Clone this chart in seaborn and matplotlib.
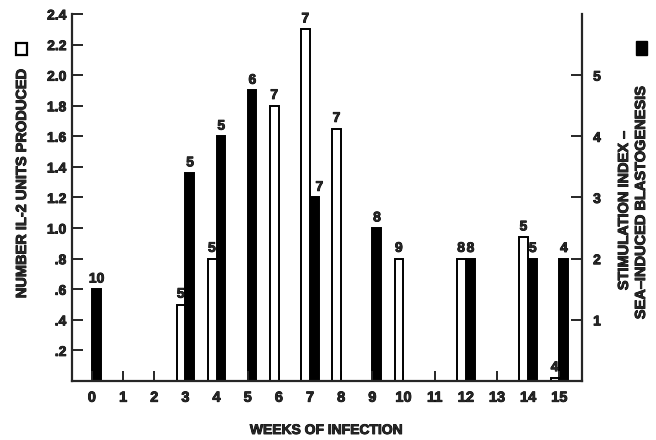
import matplotlib
matplotlib.use("Agg")
import matplotlib.pyplot as plt
import matplotlib.patches as mpatches
import matplotlib.patheffects as pe
from matplotlib import font_manager
import pandas as pd
import seaborn as sns

# data
weeks = list(range(16))
il2_weeks = [3, 4, 6, 7, 8, 10, 12, 14, 15]
il2_units = [0.5, 0.8, 1.8, 2.3, 1.65, 0.8, 0.8, 0.94, 0.02]
il2_n = [5, 5, 7, 7, 7, 9, 8, 5, 4]
si_weeks = [0, 3, 4, 5, 7, 9, 12, 14, 15]
si_index = [1.5, 3.4, 4.0, 4.75, 3.0, 2.5, 2.0, 2.0, 2.0]
si_n = [10, 5, 5, 6, 7, 8, 8, 5, 4]
left_ticks = [0.2, 0.4, 0.6, 0.8, 1.0, 1.2, 1.4, 1.6, 1.8, 2.0, 2.2, 2.4]
left_ticklabels = [".2", ".4", ".6", ".8", "1.0", "1.2", "1.4", "1.6", "1.8", "2.0", "2.2", "2.4"]
right_ticks = [1, 2, 3, 4, 5]

sns.set_style("ticks")

# pick a family that really has a bold face installed
family = "DejaVu Sans"
for cand in ["Liberation Sans", "Roboto", "Noto Sans", "Open Sans", "Lato"]:
    path = font_manager.findfont(font_manager.FontProperties(family=cand, weight="bold"),
                                 fallback_to_default=False)
    if "bold" in path.lower():
        family = cand
        break
plt.rcParams['font.family'] = [family, 'DejaVu Sans']
plt.rcParams['font.weight'] = 'bold'

heavy = [pe.withStroke(linewidth=0.6, foreground="black")]

df_il2 = pd.DataFrame({"week": il2_weeks, "value": il2_units, "series": "IL-2"})
df_si = pd.DataFrame({"week": si_weeks, "value": si_index, "series": "SI"})
palette = {"IL-2": "white", "SI": "black"}
hue_order = ["IL-2", "SI"]

fig = plt.figure(figsize=(6.56, 4.4), dpi=100)
ax = fig.add_axes([72 / 656, 59 / 440, 510 / 656, 367 / 440])
ax2 = ax.twinx()
ax.set_zorder(ax2.get_zorder() + 1)
ax.patch.set_visible(False)

sns.barplot(data=df_il2, x="week", y="value", hue="series", hue_order=hue_order,
            order=weeks, palette=palette, dodge=True, width=0.56, edgecolor="black",
            linewidth=1.4, legend=False, ax=ax)
sns.barplot(data=df_si, x="week", y="value", hue="series", hue_order=hue_order,
            order=weeks, palette=palette, dodge=True, width=0.56, edgecolor="black",
            linewidth=1.4, legend=False, ax=ax2)

# n labels above bars
for w, v, n in zip(il2_weeks, il2_units, il2_n):
    ax.text(weeks.index(w) - 0.15, v + 0.025, str(n), ha="center", va="bottom",
            fontsize=10, fontweight="bold", path_effects=heavy)
for w, v, n in zip(si_weeks, si_index, si_n):
    dx = 0.3 if w == 7 else 0.15
    ax2.text(weeks.index(w) + dx, v + 0.06, str(n), ha="center", va="bottom",
             fontsize=10, fontweight="bold", path_effects=heavy)

ax.set_xlim(-0.64, 15.73)
ax.set_ylim(0, 2.4)
ax2.set_ylim(0, 6)
ax.set_yticks(left_ticks)
ax.set_yticklabels(left_ticklabels)
ax2.set_yticks(right_ticks)
ax2.set_yticklabels([str(t) for t in right_ticks])
ax.set_xticks(weeks)
ax.set_xticklabels([str(w) for w in weeks])

for a in (ax, ax2):
    a.set_xlabel("")
    a.set_ylabel("")
    a.spines["top"].set_visible(False)
    for s in ("left", "right", "bottom"):
        a.spines[s].set_linewidth(1.6)
ax.spines["right"].set_visible(False)
ax2.spines["left"].set_visible(False)
ax2.spines["bottom"].set_visible(False)

ax.tick_params(axis="y", direction="in", length=8, width=1.4, labelsize=10, pad=4)
ax.tick_params(axis="x", direction="in", length=7, width=1.4, labelsize=10.5, pad=7)
ax2.tick_params(axis="y", direction="in", length=8, width=1.4, labelsize=10, pad=8)
for lab in ax.get_xticklabels() + ax.get_yticklabels() + ax2.get_yticklabels():
    lab.set_fontweight("bold")
    lab.set_path_effects(heavy)

fig.text(22 / 656, 1 - 183 / 440, "NUMBER IL-2 UNITS PRODUCED", rotation=90,
         ha="center", va="center", fontsize=10.5, fontweight="bold", path_effects=heavy)
fig.text(624 / 656, 1 - 210 / 440, "STIMULATION INDEX \u2013", rotation=90,
         ha="center", va="center", fontsize=10.5, fontweight="bold", path_effects=heavy)
fig.text(641 / 656, 1 - 202 / 440, "SEA\u2013INDUCED BLASTOGENESIS", rotation=90,
         ha="center", va="center", fontsize=10.5, fontweight="bold", path_effects=heavy)
fig.text(326 / 656, 1 - 430 / 440, "WEEKS OF INFECTION", ha="center", va="center",
         fontsize=10, fontweight="bold", path_effects=heavy)

# legend squares next to the axis titles
fig.patches.append(mpatches.Rectangle((16 / 656, 1 - 55 / 440), 11 / 656, 12 / 440,
                                      transform=fig.transFigure, facecolor="white",
                                      edgecolor="black", linewidth=1.6))
fig.patches.append(mpatches.Rectangle((636 / 656, 1 - 55 / 440), 11 / 656, 14 / 440,
                                      transform=fig.transFigure, facecolor="black",
                                      edgecolor="black", linewidth=1.0))

fig.savefig("out.png", dpi=100)
